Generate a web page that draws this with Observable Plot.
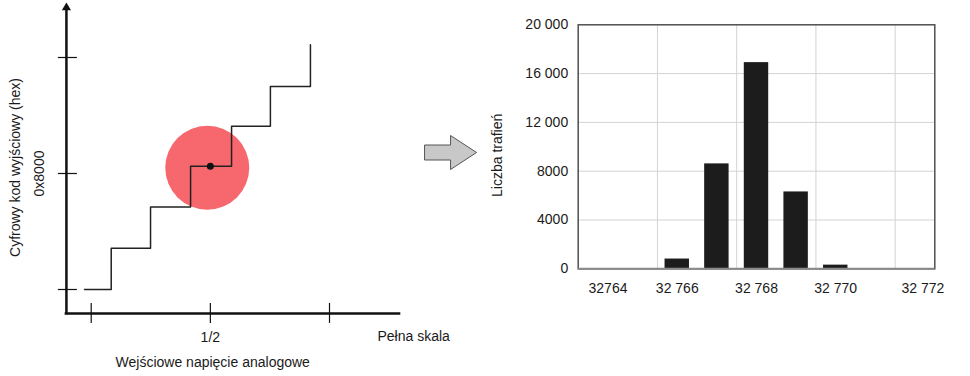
<!DOCTYPE html>
<html><head><meta charset="utf-8">
<script src="https://cdn.jsdelivr.net/npm/d3@7"></script>
<script src="https://cdn.jsdelivr.net/npm/@observablehq/plot@0.6"></script>
<style>
body{margin:0;background:#fff;}
#wrap{position:relative;width:970px;height:376px;overflow:hidden;background:#fff;}
#left,#right{position:absolute;top:0;}
#left{left:0;}
#right{left:480px;}
</style></head><body>
<div id="wrap"><div id="left"></div><div id="right"></div></div>
<script>
// ---------- Left: ADC transfer function (schematic, fractions of full scale)
const stepInputs  = [-0.028, 0.084, 0.249, 0.417, 0.589, 0.752, 0.920];
const stepOutputs = [0, 0.178, 0.356, 0.531, 0.704, 0.875, 1.055];
const inputTicks = [0, 0.5, 1];
const inputTickLabels = ["", "1/2", ""];
const outputTicks = [0, 0.5, 1];
const outputTickLabels = ["", "0x8000", ""];
const noiseCenter = [0.487, 0.525];
const midPoint = [0.5, 0.531];
const axisOrigin = [-0.104, -0.103];
const xAxisEnd = 1.294;
const yAxisEnd = 1.211;
const yAxisTip = 1.2147;
const fullScaleAt = 1.2014;
const arrowAt = [1.508, 0.5905];
const leftYTitle = "Cyfrowy kod wyjściowy (hex)";
const leftYTitleAt = 0.526;
const leftXTitle = "Wejściowe napięcie analogowe";
const leftXTitleAt = 0.51;
const fullScaleLabel = "Pełna skala";

// ---------- Right: histogram of output codes
const codes = [32764, 32765, 32766, 32767, 32768, 32769, 32770, 32771, 32772];
const hits  = [0, 0, 800, 8600, 16900, 6300, 300, 0, 0];
const xTicks = [32764, 32766, 32768, 32770, 32772];
const xTickLabels = ["32764", "32 766", "32 768", "32 770", "32 772"];
const yTicks = [0, 4000, 8000, 12000, 16000, 20000];
const yTickLabels = ["0", "4000", "8000", "12 000", "16 000", "20 000"];
const xGridLines = [32765.5, 32767.5, 32769.5, 32771.5];
const yGridLines = [4000, 8000, 12000, 16000];
const rightYTitle = "Liczba trafień";

const font = "'Liberation Sans', Arial, Helvetica, sans-serif";
const ink = "#1a1a1a";

const steps = stepInputs.map((x, i) => ({input: x, output: stepOutputs[i]}));

const blockArrow = {
  draw(ctx) {
    ctx.moveTo(-26, -7.5); ctx.lineTo(0, -7.5); ctx.lineTo(0, -17);
    ctx.lineTo(26, 0); ctx.lineTo(0, 17); ctx.lineTo(0, 7.5);
    ctx.lineTo(-26, 7.5); ctx.closePath();
  }
};

const left = Plot.plot({
  width: 480, height: 376, margin: 0,
  x: {type: "linear", domain: [0, 1], range: [90.7, 329], axis: null},
  y: {type: "linear", domain: [0, 1], range: [289, 57], axis: null},
  style: {fontFamily: font, fontSize: "14px", color: ink, background: "transparent", overflow: "visible"},
  marks: [
    Plot.dot([noiseCenter], {x: d => d[0], y: d => d[1], r: 42, fill: "#f6686d", stroke: "none"}),
    Plot.line(steps, {x: "input", y: "output", curve: "step-after", stroke: "#222", strokeWidth: 1.5}),
    Plot.dot([midPoint], {x: d => d[0], y: d => d[1], r: 3.5, fill: "#111", stroke: "none"}),
    // axes
    Plot.ruleX([axisOrigin[0]], {y1: () => axisOrigin[1], y2: () => yAxisEnd, stroke: "#111", strokeWidth: 2.5, strokeLinecap: "square"}),
    Plot.ruleY([axisOrigin[1]], {x1: () => axisOrigin[0], x2: () => xAxisEnd, stroke: "#111", strokeWidth: 2.5, strokeLinecap: "square"}),
    Plot.dot([[axisOrigin[0], yAxisTip]], {x: d => d[0], y: d => d[1], symbol: "triangle", r: 3.4, fill: "#111", stroke: "none"}),
    Plot.ruleY(outputTicks, {y: d => d, x1: () => axisOrigin[0], x2: () => axisOrigin[0], insetLeft: -8, insetRight: -11, stroke: "#111", strokeWidth: 1.2}),
    Plot.ruleX(inputTicks, {x: d => d, y1: () => axisOrigin[1], y2: () => axisOrigin[1], insetTop: -10, insetBottom: -10, stroke: "#111", strokeWidth: 1.2}),
    // labels
    Plot.text(outputTicks, {filter: d => outputTickLabels[outputTicks.indexOf(d)] !== "", x: () => axisOrigin[0], y: d => d,
      text: d => outputTickLabels[outputTicks.indexOf(d)], rotate: -90, dx: -27, fill: ink}),
    Plot.text(inputTicks, {filter: d => inputTickLabels[inputTicks.indexOf(d)] !== "", x: d => d, y: () => axisOrigin[1],
      text: d => inputTickLabels[inputTicks.indexOf(d)], dy: 24, fill: ink}),
    Plot.text([leftYTitle], {x: () => axisOrigin[0], y: () => leftYTitleAt, text: d => d, rotate: -90, dx: -51, fill: ink}),
    Plot.text([leftXTitle], {x: () => leftXTitleAt, y: () => axisOrigin[1], text: d => d, dy: 49.5, fill: ink}),
    Plot.text([fullScaleLabel], {x: () => fullScaleAt, y: () => axisOrigin[1], text: d => d, dy: 23.5, textAnchor: "start", fill: ink}),
    // block arrow
    Plot.dot([arrowAt], {x: d => d[0], y: d => d[1], symbol: blockArrow, r: 10, fill: "#c8c8c8", stroke: "#555", strokeWidth: 1})
  ]
});
document.getElementById("left").appendChild(left);

const hist = codes.map((c, i) => ({code: c, hits: hits[i]})).filter(d => d.hits > 0);
const xLab = d => xTickLabels[xTicks.indexOf(d)];
const yLab = d => yTickLabels[yTicks.indexOf(d)];

const right = Plot.plot({
  width: 490, height: 376,
  marginLeft: 97.7, marginRight: 35.7, marginTop: 24.3, marginBottom: 107.7,
  x: {type: "linear", domain: [32763.5, 32772.5], axis: null, label: null},
  y: {type: "linear", domain: [0, 20000], axis: null, label: null},
  style: {fontFamily: font, fontSize: "14px", color: ink, background: "transparent", overflow: "visible"},
  marks: [
    Plot.ruleX(xGridLines, {stroke: "#d3d3d3", strokeWidth: 1}),
    Plot.ruleY(yGridLines, {stroke: "#d3d3d3", strokeWidth: 1}),
    Plot.rectY(hist, {x1: d => d.code - 0.5, x2: d => d.code + 0.5, y: "hits", insetLeft: 7.6, insetRight: 7.6, fill: "#1c1c1c"}),
    Plot.frame({stroke: "#505050", strokeWidth: 1.5}),
    Plot.ruleY([0], {stroke: "#8a8a8a", strokeWidth: 2}),
    Plot.axisY(yTicks, {tickSize: 0, tickPadding: 10, tickFormat: yLab, fontSize: 14, fill: ink, label: null}),
    Plot.axisX(xTicks.slice(1, 4), {tickSize: 0, tickPadding: 14, tickFormat: xLab, fontSize: 14, fill: ink, label: null}),
    Plot.axisX([xTicks[0]], {tickSize: 0, tickPadding: 14, tickFormat: xLab, fontSize: 14, fill: ink, label: null, dx: 10}),
    Plot.axisX([xTicks[4]], {tickSize: 0, tickPadding: 14, tickFormat: xLab, fontSize: 14, fill: ink, label: null, dx: 8}),
    Plot.text([rightYTitle], {x: () => 32763.5, y: () => 9300, text: d => d, rotate: -90, dx: -81, fill: ink})
  ]
});
document.getElementById("right").appendChild(right);
</script>
</body></html>
